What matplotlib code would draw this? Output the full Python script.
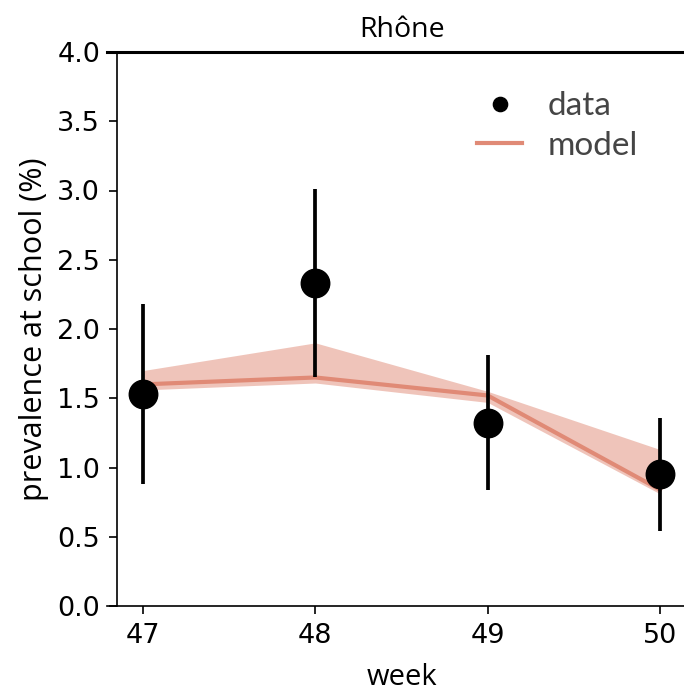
import matplotlib
matplotlib.use("Agg")
import matplotlib.pyplot as plt
import numpy as np

weeks = [47, 48, 49, 50]
data_mean = [1.53, 2.33, 1.32, 0.95]
data_low = [0.88, 1.65, 0.84, 0.54]
data_high = [2.18, 3.01, 1.81, 1.36]
model_mid = [1.60, 1.65, 1.52, 0.84]
model_low = [1.56, 1.61, 1.47, 0.81]
model_high = [1.70, 1.90, 1.55, 1.13]

title = "Rhône"
xlabel = "week"
ylabel = "prevalence at school (%)"
yticks = [0.0, 0.5, 1.0, 1.5, 2.0, 2.5, 3.0, 3.5, 4.0]

W, H = 684, 691
fig = plt.figure(figsize=(W / 100, H / 100), dpi=100)
ax_l, ax_r, ax_t, ax_b = 107, 697, 52, 606
ax = fig.add_axes([ax_l / W, 1 - ax_b / H, (ax_r - ax_l) / W, (ax_b - ax_t) / H])

line_c = "#e08a76"
ax.fill_between(weeks, model_low, model_high, color=line_c, alpha=0.5, lw=0, zorder=1)
ax.plot(weeks, model_mid, color=line_c, lw=3, zorder=2, label="model")

m = np.array(data_mean)
yerr = [m - np.array(data_low), np.array(data_high) - m]
ax.errorbar(weeks, data_mean, yerr=yerr, fmt="none", ecolor="black",
            elinewidth=2.7, capsize=0, zorder=3)
ax.plot(weeks, data_mean, "o", color="black", ms=20.5, zorder=4, label="data")

px = 172.33
ax.set_xlim(47 - 36 / px, 47 - 36 / px + (ax_r - ax_l) / px)
ax.set_ylim(0, 4)
ax.set_xticks(weeks)
ax.set_yticks(yticks)
ax.set_yticklabels([f"{v:.1f}" for v in yticks])
ax.tick_params(labelsize=19.5, length=6.1, width=1.2, direction="out", pad=6)
for lab in ax.get_xticklabels() + ax.get_yticklabels():
    lab.set_family("DejaVu Sans")

ax.spines["right"].set_visible(False)
ax.spines["left"].set_position(("axes", 10 / (ax_r - ax_l)))
ax.spines["left"].set_linewidth(1.2)
ax.spines["bottom"].set_linewidth(1.2)
ax.spines["top"].set_linewidth(2.2)

ax.set_title(title, fontsize=20.5, family="Open Sans", pad=11)
ax.set_xlabel(xlabel, fontsize=21, family="Open Sans", labelpad=10)
ax.set_ylabel(ylabel, fontsize=22, family="Open Sans", labelpad=6)

handles, labels = ax.get_legend_handles_labels()
order = [labels.index("data"), labels.index("model")]
leg = ax.legend([handles[i] for i in order], [labels[i] for i in order],
                loc="upper left", bbox_to_anchor=((474 - ax_l) / (ax_r - ax_l), (606 - 88) / 554),
                frameon=False, markerscale=0.5, handlelength=1.35, handletextpad=0.75,
                labelspacing=0.28, borderpad=0.1, borderaxespad=0,
                prop={"family": "Lato", "size": 24})
for t in leg.get_texts():
    t.set_color("#454545")

fig.savefig("out.png", dpi=100)
